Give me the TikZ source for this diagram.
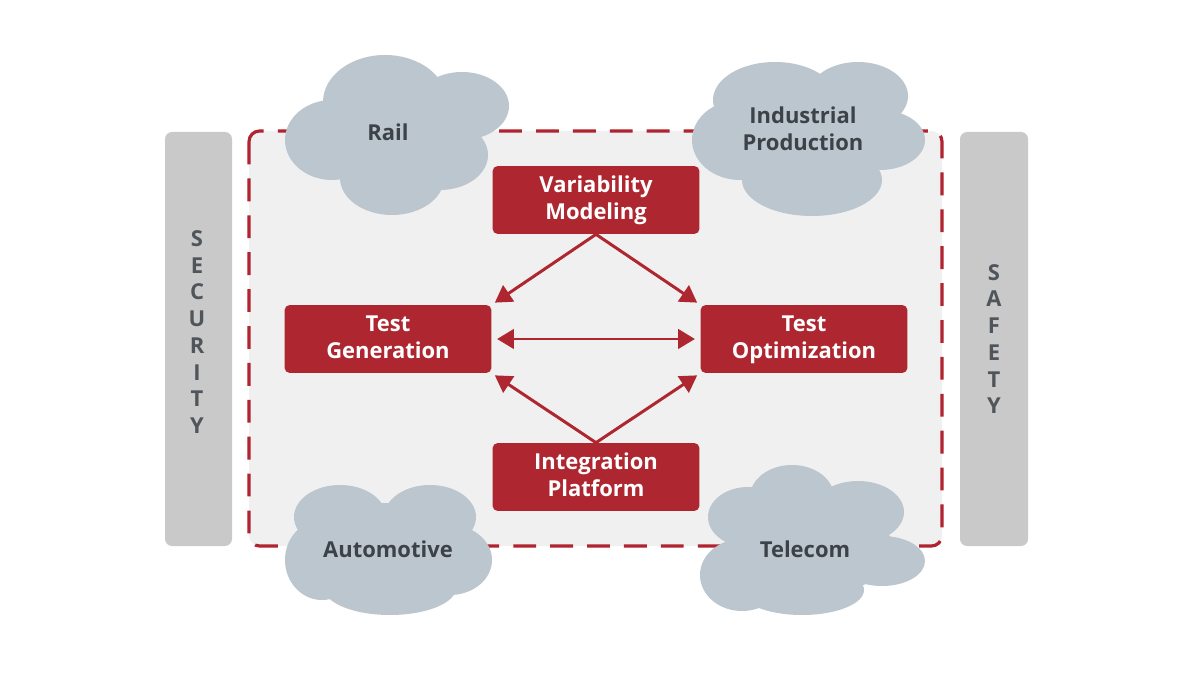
\documentclass[tikz,border=0pt]{standalone}
\usepackage{fontspec}
\setmainfont{Open Sans}
\usetikzlibrary{arrows.meta}
\definecolor{boxred}{HTML}{AE2730}
\definecolor{dashred}{HTML}{B0232F}
\definecolor{cloudgray}{HTML}{BCC6CE}
\definecolor{bargray}{HTML}{C9C9C9}
\definecolor{panelgray}{HTML}{F0F0F0}
\definecolor{textdark}{HTML}{3D4249}
\newcommand{\lst}{\rule[-4.2pt]{0pt}{15.5pt}}
\tikzset{
  redbox/.style={fill=boxred, rounded corners=3pt, minimum width=4.14cm, minimum height=1.36cm,
    text=white, font=\fontsize{12.5}{15.5}\selectfont\bfseries, align=center, inner sep=0pt},
  cloudtext/.style={text=textdark, font=\fontsize{12.5}{15.5}\selectfont\bfseries, align=center},
  bartext/.style={text=textdark!90, font=\fontsize{12.5}{15.2}\selectfont\bfseries, align=center},
  bar/.style={fill=bargray, rounded corners=4pt},
  conn/.style={draw=boxred, line width=1.7pt, -{Triangle[length=9.5pt,width=11pt]}},
  cloudfill/.style={fill=cloudgray}
}
\begin{document}
\begin{tikzpicture}[x=0.02cm, y=-0.02cm]
\useasboundingbox (0,0) rectangle (1200,675);
\fill[white] (0,0) rectangle (1200,675);
% side bars
\fill[bar] (165,132) rectangle (232,546);
\fill[bar] (960,132) rectangle (1028,546);
\node[bartext] (sec) at (197,332) {S\\E\\C\\U\\R\\I\\T\\Y};
\node[bartext] (saf) at (994,339) {S\\A\\F\\E\\T\\Y};
% dashed panel
\draw[fill=panelgray, draw=dashred, line width=1.8pt, rounded corners=6pt, dash pattern=on 13pt off 8pt]
  (249,131) rectangle (942,546);
% boxes
\node[redbox] (vm) at (596,200) {\lst Variability\\\lst Modeling};
\node[redbox] (tg) at (388,339) {\lst Test\\\lst Generation};
\node[redbox] (to) at (804,339) {\lst Test\\\lst Optimization};
\node[redbox] (ip) at (596,477) {\lst Integration\\\lst Platform};
% connectors
\draw[conn] (vm.south) -- ([shift={(3,-2)}]tg.north east);
\draw[conn] (vm.south) -- ([shift={(-3,-2)}]to.north west);
\draw[conn] (ip.north) -- ([shift={(3,2)}]tg.south east);
\draw[conn] (ip.north) -- ([shift={(-3,2)}]to.south west);
\draw[conn, {Triangle[length=9.5pt,width=11pt]}-{Triangle[length=9.5pt,width=11pt]}] ([xshift=3]tg.east) -- ([xshift=-3]to.west);
% clouds
\fill[cloudfill] (385,102) ellipse [x radius=62, y radius=47];
\fill[cloudfill] (462,106) ellipse [x radius=47, y radius=34];
\fill[cloudfill] (332,140) ellipse [x radius=47, y radius=40];
\fill[cloudfill] (440,155) ellipse [x radius=48, y radius=35];
\fill[cloudfill] (392,178) ellipse [x radius=52, y radius=37];
\fill[cloudfill] (390,140) ellipse [x radius=75, y radius=45];
\node[cloudtext] (rail) at (388,132) {Rail};

\fill[cloudfill] (775,100) ellipse [x radius=62, y radius=38];
\fill[cloudfill] (858,96) ellipse [x radius=50, y radius=34];
\fill[cloudfill] (880,140) ellipse [x radius=45, y radius=30];
\fill[cloudfill] (740,140) ellipse [x radius=48, y radius=40];
\fill[cloudfill] (812,180) ellipse [x radius=70, y radius=36];
\fill[cloudfill] (810,138) ellipse [x radius=85, y radius=45];
\node[cloudtext] (ind) at (803,131) {\lst Industrial\\\lst Production};

\fill[cloudfill] (340,517) ellipse [x radius=46, y radius=32];
\fill[cloudfill] (430,517) ellipse [x radius=46, y radius=32];
\fill[cloudfill] (322,560) ellipse [x radius=37, y radius=40];
\fill[cloudfill] (450,560) ellipse [x radius=42, y radius=35];
\fill[cloudfill] (390,588) ellipse [x radius=66, y radius=27];
\fill[cloudfill] (388,548) ellipse [x radius=82, y radius=45];
\node[cloudtext] (auto) at (388,549) {Automotive};

\fill[cloudfill] (792,497) ellipse [x radius=42, y radius=32];
\fill[cloudfill] (858,512) ellipse [x radius=46, y radius=31];
\fill[cloudfill] (748,517) ellipse [x radius=40, y radius=30];
\fill[cloudfill] (882,561) ellipse [x radius=43, y radius=25];
\fill[cloudfill] (742,575) ellipse [x radius=42, y radius=36];
\fill[cloudfill] (802,590) ellipse [x radius=62, y radius=25];
\fill[cloudfill] (812,550) ellipse [x radius=82, y radius=45];
\node[cloudtext] (tel) at (805,549) {Telecom};
\end{tikzpicture}
\end{document}
